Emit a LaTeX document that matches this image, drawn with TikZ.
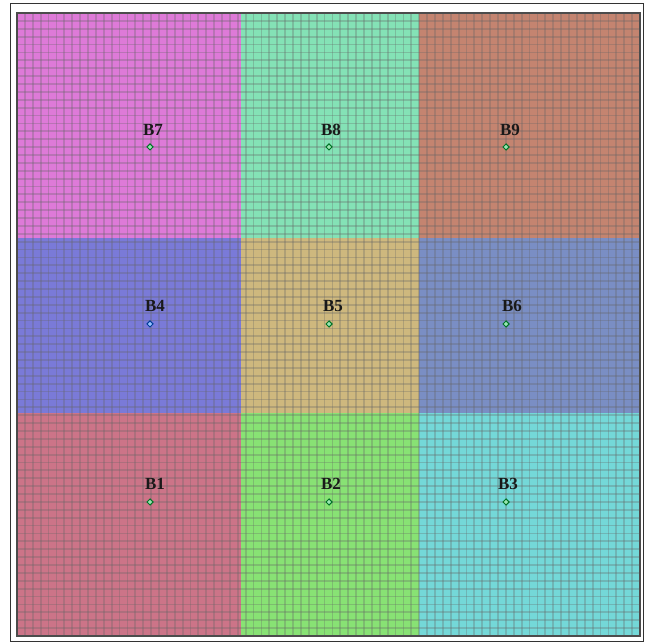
\documentclass[tikz,border=0pt]{standalone}
\usepackage{fontspec}
\setmainfont{Liberation Serif}
\usetikzlibrary{shapes.geometric}
\begin{document}
\begin{tikzpicture}[x=1pt,y=-1pt,
  lbl/.style={font=\bfseries\fontsize{17}{17}\selectfont, text=black!90, inner sep=0pt},
  pt/.style={diamond, draw=#1!60!black, fill=#1!40, minimum size=6.5pt, inner sep=0pt, line width=1pt},
  gridline/.style={draw=black!60, opacity=0.3, line width=1.8pt}]
\useasboundingbox (0,0) rectangle (646,644);
\fill[white] (0,0) rectangle (646,644);
\draw[black!80, line width=0.8pt] (10,3) rectangle (643,641);
% blocks
\fill[fill={rgb,255:red,222;green,122;blue,216}] (17,13) rectangle (241,238);
\fill[fill={rgb,255:red,132;green,226;blue,182}] (241,13) rectangle (419,238);
\fill[fill={rgb,255:red,196;green,132;blue,112}] (419,13) rectangle (640,238);
\fill[fill={rgb,255:red,122;green,122;blue,216}] (17,238) rectangle (241,413);
\fill[fill={rgb,255:red,206;green,184;blue,126}] (241,238) rectangle (419,413);
\fill[fill={rgb,255:red,122;green,142;blue,196}] (419,238) rectangle (640,413);
\fill[fill={rgb,255:red,204;green,116;blue,136}] (17,413) rectangle (241,636);
\fill[fill={rgb,255:red,136;green,226;blue,116}] (241,413) rectangle (419,636);
\fill[fill={rgb,255:red,116;green,216;blue,216}] (419,413) rectangle (640,636);
% mesh
\foreach \i in {1,...,78} {
  \draw[gridline] ({17+\i*7.886},13) -- ({17+\i*7.886},636);
  \draw[gridline] (17,{13+\i*7.886}) -- (640,{13+\i*7.886});
}
\draw[black!70, line width=1.4pt] (17,13) rectangle (640,636);
% labels and points
\node[lbl] (l7) at (153,130) {B7}; \node[pt=green!50!teal] (p7) at (150,147) {};
\node[lbl] (l8) at (331,130) {B8}; \node[pt=green!50!teal] (p8) at (329,147) {};
\node[lbl] (l9) at (510,130) {B9}; \node[pt=green!50!teal] (p9) at (506,147) {};
\node[lbl] (l4) at (155,306) {B4}; \node[pt=blue!60!cyan] (p4) at (150,324) {};
\node[lbl] (l5) at (333,306) {B5}; \node[pt=green!50!teal] (p5) at (329,324) {};
\node[lbl] (l6) at (512,306) {B6}; \node[pt=green!50!teal] (p6) at (506,324) {};
\node[lbl] (l1) at (155,484) {B1}; \node[pt=green!50!teal] (p1) at (150,502) {};
\node[lbl] (l2) at (331,484) {B2}; \node[pt=green!50!teal] (p2) at (329,502) {};
\node[lbl] (l3) at (508,484) {B3}; \node[pt=green!50!teal] (p3) at (506,502) {};
\end{tikzpicture}
\end{document}
